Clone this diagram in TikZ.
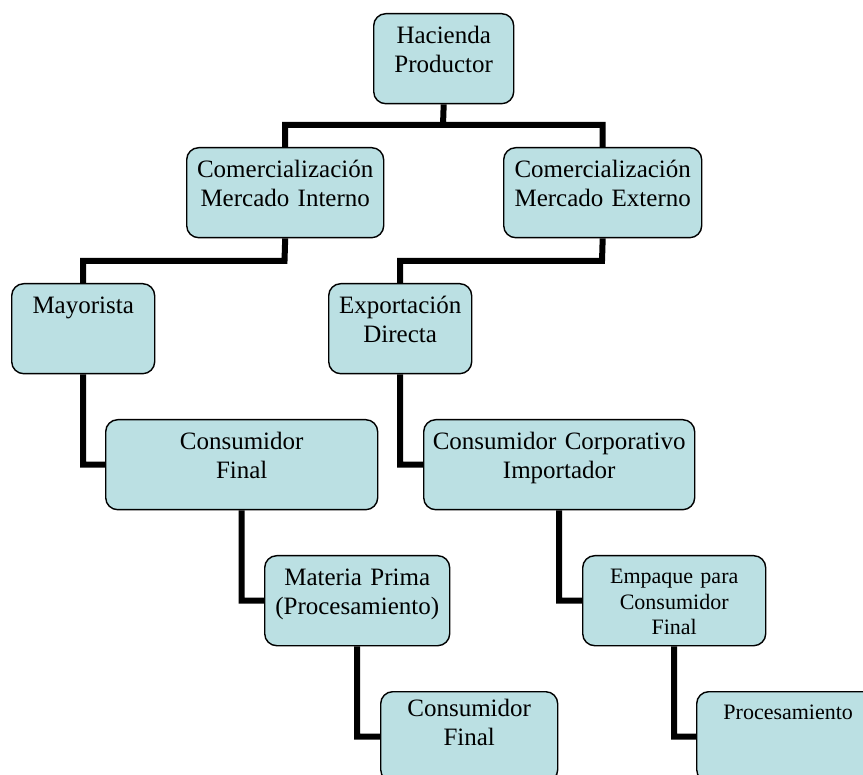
\documentclass[tikz,border=0pt]{standalone}
\usepackage{fontspec}
\setmainfont{Liberation Serif}
\usepackage{xcolor}
\usetikzlibrary{positioning}

\definecolor{celeste}{RGB}{187,224,227}

\tikzset{
    caja/.style={draw, line width=1.4pt, rounded corners=12pt, fill=celeste,
        inner sep=0pt, align=center, anchor=north west,
        text height=30pt, text depth=60pt, font=\fontsize{25}{29}\selectfont},
    cajachica/.style={caja, text height=28pt, text depth=62pt,
        font=\fontsize{22}{25.5}\selectfont},
    conector/.style={line width=6pt}
}

\begin{document}
\begin{tikzpicture}[x=1pt, y=-1pt]
    \useasboundingbox (0, 0) rectangle (863, 775);
    \clip (0, 0) rectangle (863, 775);
    % cajas
    \node[caja, text width=140pt] (hac) at (373, 13) {Hacienda\\Productor};
    \node[caja, text width=197pt] (cmi) at (186, 147) {Comercialización\\Mercado Interno};
    \node[caja, text width=198pt] (cme) at (503, 147) {Comercialización\\Mercado Externo};
    \node[caja, text width=143pt] (may) at (11, 283) {Mayorista};
    \node[caja, text width=143pt] (exp) at (328, 283) {Exportación\\Directa};
    \node[caja, text width=272pt] (cf1) at (105, 419) {Consumidor\\Final};
    \node[caja, text width=271pt] (corp) at (423, 419) {Consumidor Corporativo\\Importador};
    \node[caja, text width=185pt] (mat) at (264, 555) {Materia Prima\\(Procesamiento)};
    \node[cajachica, text width=183pt] (emp) at (582, 555) {Empaque para\\Consumidor\\Final};
    \node[caja, text width=177pt, text height=25pt, text depth=65pt] (cf2) at (380, 691) {Consumidor\\Final};
    \node[cajachica, text width=183pt] (proc) at (696, 691) {Procesamiento};
    % ramas
    \coordinate (r1) at (443, 125);
    \coordinate (r2) at (284.5, 261);
    \coordinate (r3) at (602, 261);
    \draw[conector]
    (hac.south) -- (r1)
    (cmi.north) |- (r1) -| (cme.north)
    (cmi.south) -- (r2) -| (may.north)
    (cme.south) -- (r3) -| (exp.north)
    (may.south) |- (cf1.west)
    (exp.south) |- (corp.west)
    (cf1.south) |- (mat.west)
    (corp.south) |- (emp.west)
    (mat.south) |- (cf2.west)
    (emp.south) |- (proc.west);
\end{tikzpicture}
\end{document}
